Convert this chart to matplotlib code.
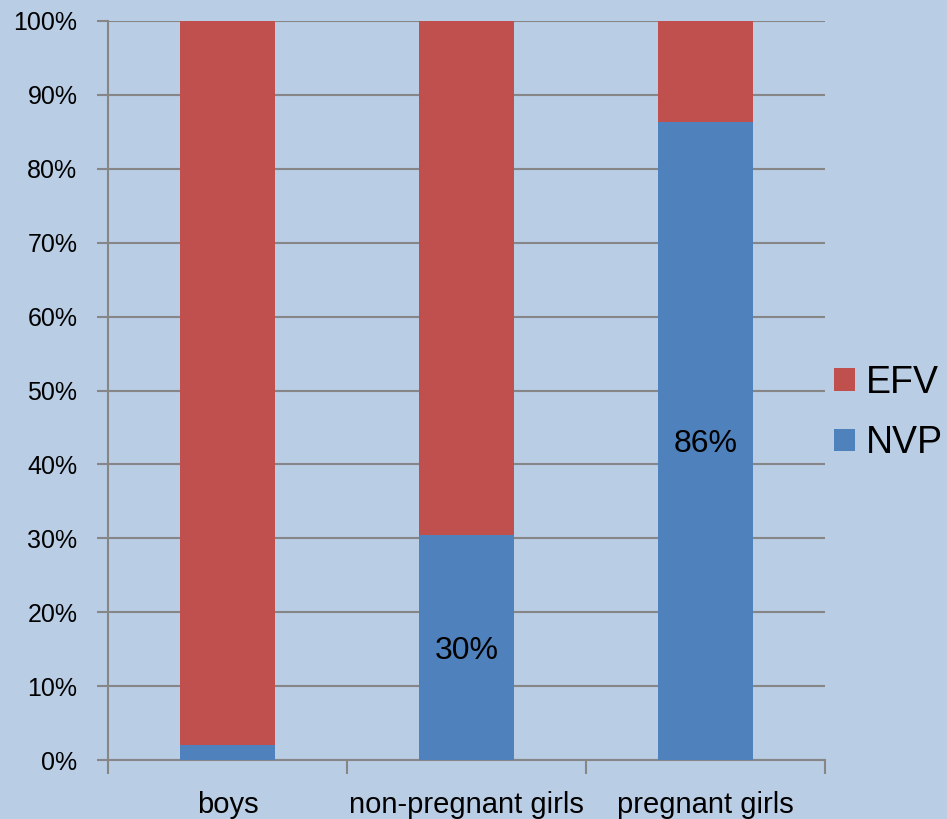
import numpy as np
import matplotlib
matplotlib.use("Agg")
import matplotlib.pyplot as plt
from matplotlib.ticker import FixedLocator, PercentFormatter

categories = ["boys", "non-pregnant girls", "pregnant girls"]
nvp = [2.0, 30.4, 86.4]
efv = [98.0, 69.6, 13.6]
labels = ["", "30%", "86%"]

bg = "#B9CDE5"
red = "#C0504D"
blue = "#4F81BD"
grey = "#868686"

plt.rcParams['font.family'] = ['Liberation Sans', 'DejaVu Sans']

fig = plt.figure(figsize=(9.47, 8.19), dpi=100, facecolor=bg)
ax = fig.add_axes([108/947, 59/819, 717/947, 739/819], facecolor=bg)

x = np.arange(len(categories))
b1 = ax.bar(x, nvp, width=0.4, color=blue, label="NVP", zorder=3)
b2 = ax.bar(x, efv, width=0.4, bottom=nvp, color=red, label="EFV", zorder=3)

for i, lab in enumerate(labels):
    if lab:
        ax.text(x[i], nvp[i] / 2 - 0.4, lab, ha="center", va="center",
                fontsize=23, color="black", zorder=4)

ax.set_xlim(-0.5, len(categories) - 0.5)
ax.set_ylim(0, 100)
ax.set_yticks(np.arange(0, 101, 10))
ax.yaxis.set_major_formatter(PercentFormatter(decimals=0))
ax.yaxis.grid(True, color=grey, linewidth=1.5, zorder=0)
ax.set_axisbelow(True)

ax.set_xticks(x)
ax.set_xticklabels(categories, fontsize=21)
ax.xaxis.set_minor_locator(FixedLocator(np.arange(-0.5, len(categories), 1.0)))
ax.tick_params(axis="x", which="major", length=0, pad=22)
ax.tick_params(axis="x", which="minor", length=10, width=1.5, color=grey)
ax.tick_params(axis="y", length=8, width=1.5, color=grey, labelsize=18, pad=14)

for s in ["top", "right"]:
    ax.spines[s].set_visible(False)
for s in ["left", "bottom"]:
    ax.spines[s].set_color(grey)
    ax.spines[s].set_linewidth(1.5)

handles = [b2, b1]
leg = fig.legend(handles, ["EFV", "NVP"], loc="center left", bbox_to_anchor=(834/947, 406/819),
                 frameon=False, fontsize=27, handlelength=0.55, handleheight=0.55,
                 handletextpad=0.3, labelspacing=0.65, borderaxespad=0, borderpad=0)

fig.savefig("out.png", dpi=100, facecolor=bg)
